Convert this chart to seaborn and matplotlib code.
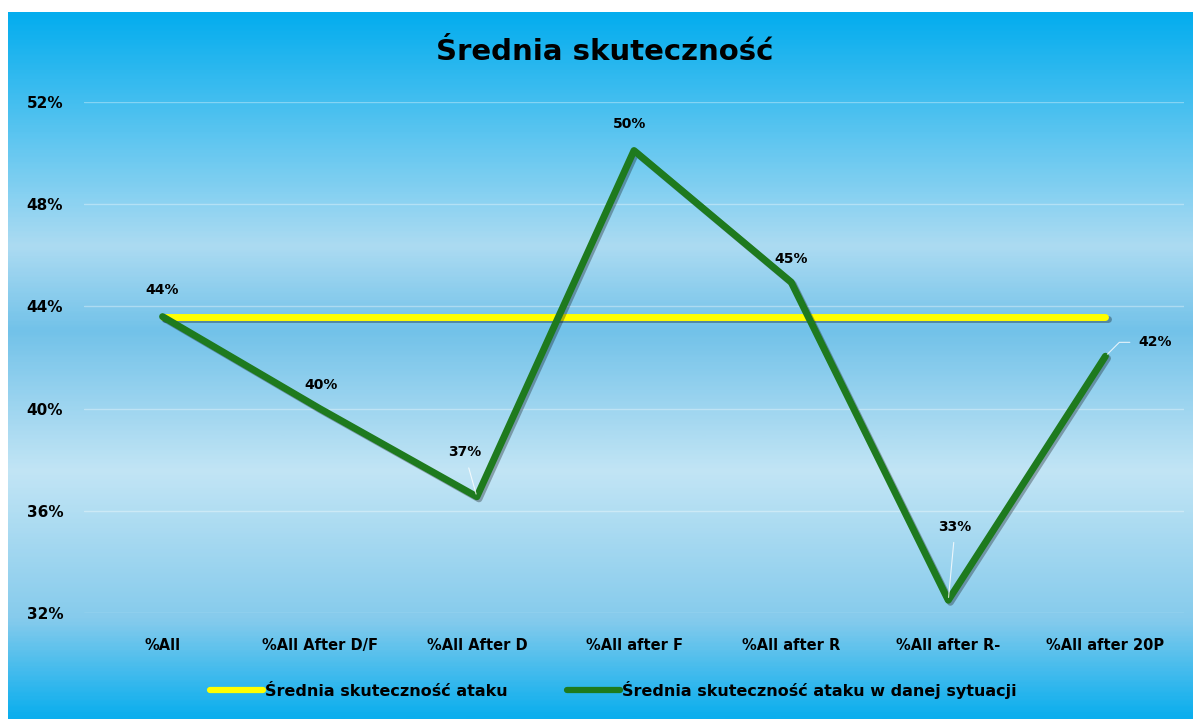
import numpy as np
import pandas as pd
import matplotlib
matplotlib.use("Agg")
import matplotlib.pyplot as plt
import matplotlib.patheffects as pe
from matplotlib.colors import LinearSegmentedColormap
from matplotlib.ticker import FuncFormatter
import seaborn as sns

# data (values in %)
categories = ["%All", "%All After D/F", "%All After D", "%All after F",
              "%All after R", "%All after R-", "%All after 20P"]
situation = [43.6, 40.0, 36.55, 50.1, 44.95, 32.5, 42.05]
average = [43.6] * len(categories)
labels = ["44%", "40%", "37%", "50%", "45%", "33%", "42%"]

name_avg = "Średnia skuteczność ataku"
name_sit = "Średnia skuteczność ataku w danej sytuacji"

df = pd.DataFrame({"cat": categories, name_avg: average, name_sit: situation})
long_df = df.melt(id_vars="cat", var_name="series", value_name="val")

sns.set_style("white")
plt.rcParams["font.family"] = ["DejaVu Sans"]
plt.rcParams["font.weight"] = "bold"
plt.rcParams["text.color"] = "black"
plt.rcParams["xtick.color"] = "black"
plt.rcParams["ytick.color"] = "black"

fig = plt.figure(figsize=(11.98, 7.19), dpi=100)
fig.patch.set_facecolor("white")

# gradient background of the chart area
bg = fig.add_axes([8 / 1198, 0, 1 - 13 / 1198, 1 - 12 / 719])
grad = LinearSegmentedColormap.from_list("bg", [
    (0.00, "#04adee"), (0.33, "#acdbf2"), (0.45, "#72c2e9"),
    (0.65, "#c2e5f5"), (0.86, "#86cbec"), (1.00, "#0aaeee")])
bg.imshow(np.linspace(0, 1, 400).reshape(-1, 1), aspect="auto", cmap=grad,
          extent=[0, 1, 0, 1])
bg.set_axis_off()

ax = fig.add_axes([84 / 1198, 106 / 719, 1100 / 1198, 511 / 719])
ax.patch.set_alpha(0)

shadow = [pe.SimpleLineShadow(offset=(1.5, -1.5), alpha=0.3), pe.Normal()]
sns.lineplot(data=long_df, x="cat", y="val", hue="series", sort=False,
             palette={name_avg: "#ffff00", name_sit: "#1e7a1e"},
             linewidth=5, ax=ax, legend=False, path_effects=shadow,
             solid_capstyle="round")

ax.set_xlim(-0.5, 6.5)
ax.set_ylim(32, 52)
ax.set_yticks([32, 36, 40, 44, 48, 52])
ax.yaxis.set_major_formatter(FuncFormatter(lambda v, p: f"{v:.0f}%"))
ax.grid(axis="y", color="white", alpha=0.35, linewidth=1)
ax.set_axisbelow(True)
for s in ax.spines.values():
    s.set_visible(False)
ax.tick_params(axis="y", length=0, pad=15, labelsize=11)
ax.tick_params(axis="x", length=0, pad=18, labelsize=10.5)
ax.set_xlabel("")
ax.set_ylabel("")

# data labels
offsets = [(0, 19), (1, 17), (-9, 32), (-3, 19), (0, 17), (5, 53), (36, 10)]
styles = [None, None, "arc3", None, None, "arc3",
          "angle,angleA=180,angleB=45,rad=0"]
for i, (lab, off, st) in enumerate(zip(labels, offsets, styles)):
    ap = None
    if st:
        ap = dict(arrowstyle="-", color="white", lw=0.8, alpha=0.8,
                  shrinkA=4, shrinkB=2, connectionstyle=st)
    ax.annotate(lab, (i, situation[i]), xytext=off, textcoords="offset points",
                ha="center", va="center", fontsize=10, fontweight="bold",
                arrowprops=ap)

fig.text(0.505, 1 - 52 / 719, "Średnia skuteczność", ha="center", va="center",
         fontsize=21, fontweight="bold")

handles = [plt.Line2D([], [], color="#ffff00", lw=4.5, solid_capstyle="round"),
           plt.Line2D([], [], color="#1e7a1e", lw=4.5, solid_capstyle="round")]
fig.legend(handles, [name_avg, name_sit], loc="center",
           bbox_to_anchor=(0.512, 1 - 690 / 719), ncol=2, frameon=False,
           fontsize=11.5, handlelength=3.3, handletextpad=0.15,
           columnspacing=3.7)

fig.savefig("out.png", dpi=100, facecolor="white")
